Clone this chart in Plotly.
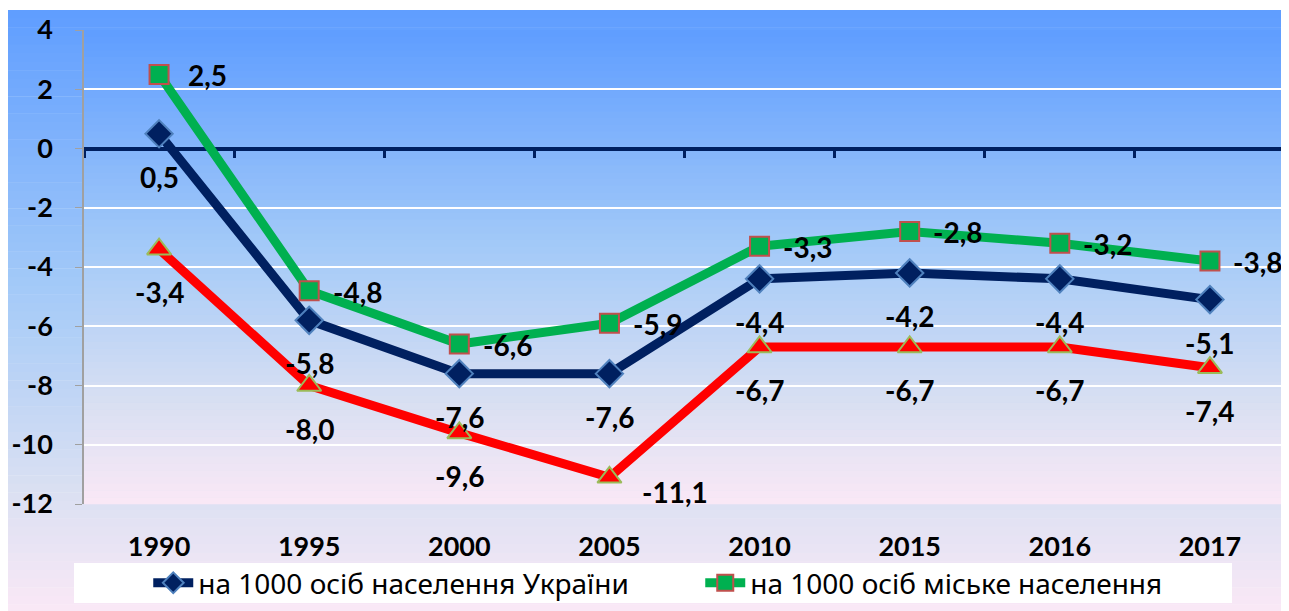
import plotly.graph_objects as go

# --------------------------------------------------------
# Data
# --------------------------------------------------------

years = ["1990", "1995", "2000", "2005", "2010", "2015", "2016", "2017"]

ukraine = [0.5, -5.8, -7.6, -7.6, -4.4, -4.2, -4.4, -5.1]
urban = [2.5, -4.8, -6.6, -5.9, -3.3, -2.8, -3.2, -3.8]
rural = [-3.4, -8.0, -9.6, -11.1, -6.7, -6.7, -6.7, -7.4]

y_ticks = [4, 2, 0, -2, -4, -6, -8, -10, -12]

name_ukraine = "на 1000 осіб населення України"
name_urban = "на 1000 осіб міське населення"
name_rural = "на 1000 осіб сільське населення"


def fmt(v):
    return f"{v:.1f}".replace(".", ",")


# --------------------------------------------------------
# Background gradients (blue -> lavender -> pink)
# --------------------------------------------------------

stops = [
    (0.0, (96, 158, 255)),
    (0.45, (162, 201, 248)),
    (0.8, (218, 224, 242)),
    (1.0, (249, 232, 246)),
]


def grad_color(t):
    for (t0, c0), (t1, c1) in zip(stops[:-1], stops[1:]):
        if t <= t1:
            f = (t - t0) / (t1 - t0)
            c = [round(a + (b - a) * f) for a, b in zip(c0, c1)]
            return f"rgb({c[0]},{c[1]},{c[2]})"
    return "rgb(249,232,246)"


def gradient_bands(x0, x1, y_top, y_bot, n=70):
    shapes = []
    h = (y_top - y_bot) / n
    for i in range(n):
        top = y_top - i * h
        shapes.append(dict(
            type="rect", xref="paper", yref="paper",
            x0=x0, x1=x1, y0=top - h * 1.05, y1=top,
            fillcolor=grad_color(i / (n - 1)),
            line=dict(width=0), layer="below"
        ))
    return shapes


shapes = []
shapes += gradient_bands(-0.0633, 1.01, 1.0422, -0.23)   # chart area
shapes += gradient_bands(0.0, 1.0, 1.0, 0.0)               # plot area

# white legend box
shapes.append(dict(
    type="rect", xref="paper", yref="paper",
    x0=-0.0083, x1=0.9559, y0=-0.2089, y1=-0.1245,
    fillcolor="white", line=dict(width=0), layer="below"
))

# --------------------------------------------------------
# Traces
# --------------------------------------------------------

fig = go.Figure()

fig.add_trace(go.Scatter(
    x=years, y=rural, name=name_rural, mode="lines+markers",
    line=dict(color="#ff0000", width=9),
    marker=dict(symbol="triangle-up", size=21, color="#ff0000",
                line=dict(color="#9bbb59", width=2)),
    showlegend=False
))

fig.add_trace(go.Scatter(
    x=years, y=ukraine, name=name_ukraine, mode="lines+markers",
    line=dict(color="#002060", width=9),
    marker=dict(symbol="diamond", size=21, color="#002060",
                line=dict(color="#4f81bd", width=2))
))

fig.add_trace(go.Scatter(
    x=years, y=urban, name=name_urban, mode="lines+markers",
    line=dict(color="#00b050", width=9),
    marker=dict(symbol="square", size=19, color="#00b050",
                line=dict(color="#c0504d", width=2))
))

# helper trace for the zero-line category axis
fig.add_trace(go.Scatter(
    x=years, y=[None] * len(years), xaxis="x2",
    showlegend=False, hoverinfo="skip"
))

# --------------------------------------------------------
# Data labels
# --------------------------------------------------------

label_font = dict(family="Lato, Open Sans, sans-serif", size=28, color="black")

annotations = []
for i, v in enumerate(ukraine):
    annotations.append(dict(x=i, y=v, text="<b>" + fmt(v) + "</b>",
                            showarrow=False, yshift=-43, font=label_font))
for i, v in enumerate(urban):
    annotations.append(dict(x=i, y=v, text="<b>" + fmt(v) + "</b>",
                            showarrow=False, xshift=48, yshift=-1, font=label_font))
for i, v in enumerate(rural):
    if years[i] == "2005":
        dx, dy = 66, -15
    else:
        dx, dy = 0, -43
    annotations.append(dict(x=i, y=v, text="<b>" + fmt(v) + "</b>",
                            showarrow=False, xshift=dx, yshift=dy, font=label_font))

# --------------------------------------------------------
# Layout
# --------------------------------------------------------

fig.update_layout(
    width=1281,
    height=603,
    margin=dict(l=76, r=4, t=22, b=107, autoexpand=False),
    paper_bgcolor="white",
    plot_bgcolor="rgba(0,0,0,0)",
    shapes=shapes,
    annotations=annotations,
    showlegend=True,
    legend=dict(
        orientation="h",
        x=0.0535, y=-0.1667, xanchor="left", yanchor="middle",
        bgcolor="rgba(0,0,0,0)",
        font=dict(family="Noto Sans, Open Sans, sans-serif", size=28, color="black"),
        entrywidth=497,
        itemwidth=40
    ),
    xaxis=dict(
        type="category",
        categoryorder="array", categoryarray=years,
        range=[-0.5, 7.5],
        showgrid=False, zeroline=False, showline=False,
        ticks="outside", ticklen=19, tickcolor="rgba(0,0,0,0)",
        tickfont=dict(family="Lato, Open Sans, sans-serif", size=27, color="black"),
        tickprefix="<b>", ticksuffix="</b>"
    ),
    xaxis2=dict(
        type="category",
        categoryorder="array", categoryarray=years,
        overlaying="x", matches="x",
        anchor="free", position=0.75,
        showline=True, linecolor="#002060", linewidth=4,
        ticks="outside", tickson="boundaries", ticklen=7, tickwidth=3,
        tickcolor="#002060",
        showticklabels=False, showgrid=False, zeroline=False,
        layer="below traces"
    ),
    yaxis=dict(
        range=[-12, 4],
        tickvals=y_ticks,
        ticktext=["<b>" + str(t) + "</b>" for t in y_ticks],
        showgrid=True, gridcolor="white", gridwidth=2,
        zeroline=False,
        showline=True, linecolor="#a0a0a0", linewidth=1.5,
        ticks="outside", ticklen=7, tickcolor="#a0a0a0",
        tickfont=dict(family="Lato, Open Sans, sans-serif", size=27, color="black"),
        ticklabelstandoff=17
    )
)

fig.write_html("out.html")
